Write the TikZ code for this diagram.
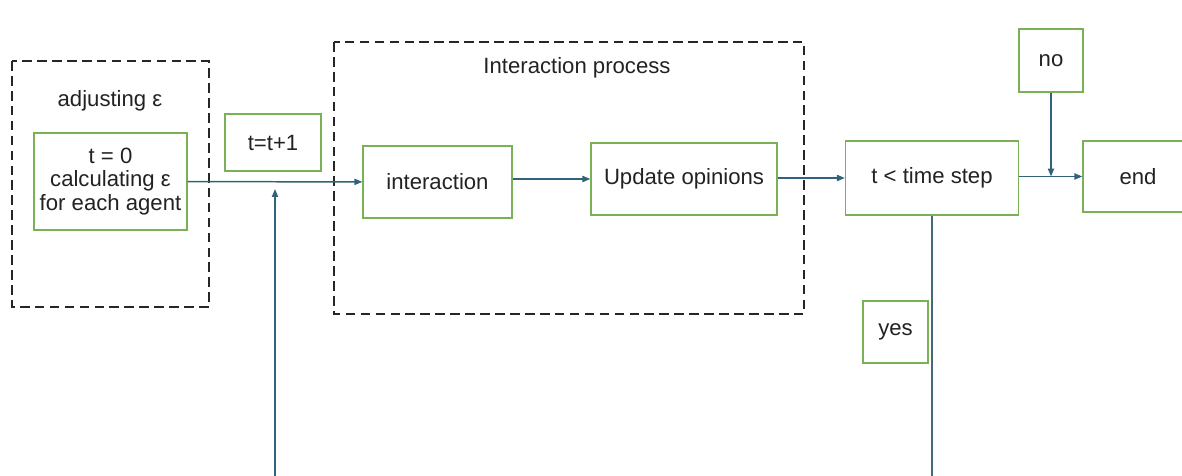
\documentclass[tikz,border=0pt]{standalone}
\usepackage{fontspec}
\setmainfont{Liberation Sans}
\usepackage{xcolor}
\usepackage{tikz}
\usetikzlibrary{arrows.meta, calc}

\definecolor{boxgreen}{RGB}{122,176,86}
\definecolor{flowblue}{RGB}{48,98,122}
\definecolor{txtgray}{RGB}{34,34,34}

\begin{document}
\begin{tikzpicture}[
  x=0.02cm, y=-0.02cm,
  font=\fontsize{12.6}{15}\selectfont, text=txtgray,
  box/.style={draw=boxgreen, line width=0.75pt, fill=white, align=center, inner sep=2pt},
  group/.style={draw=black!85, line width=0.8pt, dash pattern=on 5.5pt off 3pt},
  flow/.style={draw=flowblue, line width=0.85pt, -{Triangle[length=4.5pt, width=3.5pt]}},
  wire/.style={draw=flowblue!75!gray, line width=1.1pt}
]
  \useasboundingbox (0,0) rectangle (1182,476);

  \draw[group] (12,61) rectangle (209,307);
  \draw[group] (334,42) rectangle (804,314);
  \node (adj) at (110,101) {adjusting ε};
  \node (proc) at (577,68) {Interaction process};

  \node[box, minimum width=3.06cm, minimum height=1.94cm] (t0) at (110.5,181.5)
    {t = 0\\[-1.4pt] calculating ε\\[-1.4pt] for each agent};
  \node[box, minimum width=1.92cm, minimum height=1.14cm] (inc) at (273,142.5) {t=t+1};
  \node[box, minimum width=2.98cm, minimum height=1.44cm] (inter) at (437.5,182) {interaction};
  \node[box, minimum width=3.72cm, minimum height=1.44cm] (upd) at (684,179) {Update opinions};
  \node[box, minimum width=3.46cm, minimum height=1.48cm] (chk) at (932,178) {t < time step};
  \node[box, minimum width=2.2cm, minimum height=1.42cm] (fin) at (1138,176.5) {end};
  \node[box, minimum width=1.28cm, minimum height=1.26cm] (no) at (1051,60.5) {no};
  \node[box, minimum width=1.3cm, minimum height=1.24cm] (yes) at (895.5,332) {yes};

  \coordinate (down) at (chk.south |- 0,476.5);
  \coordinate (back) at (275,476.5);
  \coordinate (up) at (275,189);
  \coordinate (join) at (no.south |- fin.west);

  \draw[flow] (t0) -- (inter);
  \draw[flow] (inter.east |- upd.west) -- (upd.west);
  \draw[flow] (upd.east |- chk.west) -- (chk.west);
  \draw[flow] (chk.east |- fin.west) -- (fin.west);
  \draw[flow] (no.south) -- (join);
  \draw[wire] (chk.south) -- (down) -- (back);
  \draw[flow] (back) -- (up);
\end{tikzpicture}
\end{document}
